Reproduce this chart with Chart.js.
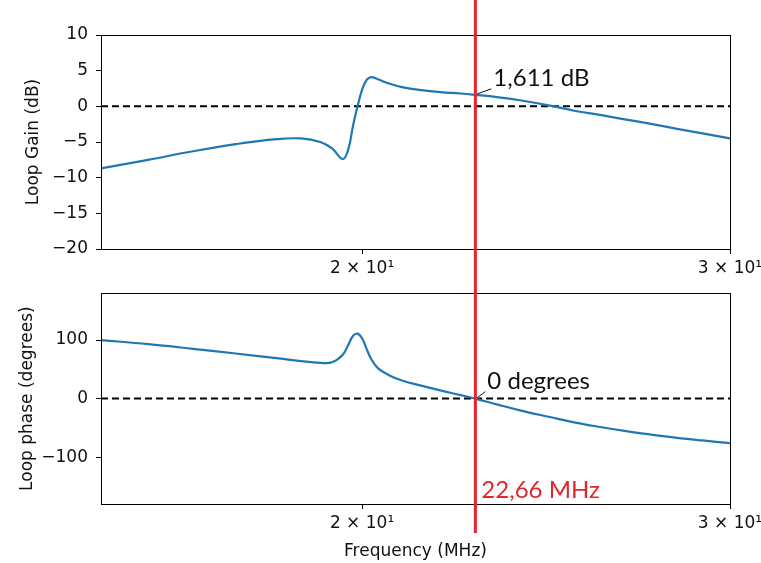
<!DOCTYPE html>
<html lang="en">
<head>
<meta charset="UTF-8" />
<script src="https://cdn.jsdelivr.net/npm/chart.js"></script>
<title>Loop gain and phase</title>
<style>
  body { margin: 0; background: #fff; }
  canvas { position: absolute; left: 0; }
  #gainChart { top: 0; }
  #phaseChart { top: 275px; }
</style>
</head>
<body>
<canvas id="gainChart" width="761" height="275"></canvas>
<canvas id="phaseChart" width="761" height="288"></canvas>
<script>
// values
const freqMHz = [15, 15.8, 16.6, 17.4, 18.2, 18.7, 19.1, 19.35, 19.58, 19.7, 19.8, 19.9, 20.0, 20.1, 20.2, 20.35,
  20.6, 20.9, 21.3, 21.8, 22.3, 22.66, 23.2, 23.8, 24.6, 25.3, 26.0, 26.8, 27.5, 28.3, 29.1, 30];
const gainDb = [-8.7, -7.5, -6.3, -5.3, -4.6, -4.5, -5.0, -5.9, -7.4, -6.0, -2.8, 0.0, 2.3, 3.7, 4.1, 3.8,
  3.2, 2.7, 2.3, 2.0, 1.8, 1.611, 1.3, 0.85, 0.1, -0.65, -1.2, -1.9, -2.45, -3.15, -3.8, -4.5];
const phaseDeg = [100, 93, 85, 77, 69, 64, 61, 62, 75, 92, 107, 111, 103, 85, 68, 52,
  40, 31, 23, 14, 6, 0, -9.8, -20, -31.5, -41, -48.5, -56, -61.5, -67, -71.5, -76];

const xTicks = [20, 30];
const gainTicks = [10, 5, 0, -5, -10, -15, -20];
const phaseTicks = [100, 0, -100];

const markerFreq = 22.66;
const markerGain = 1.611;
const markerPhase = 0;

const tickFont = { family: 'DejaVu Sans', size: 17 };
const noteFont = '24px Lato';
const redColor = '#e3262b';

function toPoints(ys) {
  return freqMHz.map((f, i) => ({ x: f, y: ys[i] }));
}

function minusSign(v) {
  return String(v).replace('-', '\u2212');
}

// draws frame, the red marker line and the text note
function overlayPlugin(note, noteValue, lineBottom, redLabel) {
  return {
    id: 'overlay',
    afterDraw(chart) {
      const ctx = chart.ctx;
      const a = chart.chartArea;
      const xs = chart.scales.x, ys = chart.scales.y;
      ctx.save();
      ctx.strokeStyle = '#000';
      ctx.lineWidth = 1;
      ctx.strokeRect(Math.round(a.left) + 0.5, Math.round(a.top) + 0.5,
        Math.round(a.right - a.left), Math.round(a.bottom - a.top));

      const px = xs.getPixelForValue(markerFreq);
      const py = ys.getPixelForValue(noteValue);

      // note text with small arrow
      ctx.fillStyle = '#111';
      ctx.font = noteFont;
      ctx.textBaseline = 'alphabetic';
      ctx.fillText(note.text, px + note.dx, py + note.dy);
      ctx.strokeStyle = '#111';
      ctx.lineWidth = 1;
      ctx.beginPath();
      ctx.moveTo(px + note.dx - 2, py + note.dy + 3);
      ctx.lineTo(px + 2, py - 1);
      ctx.stroke();

      // red vertical marker
      ctx.strokeStyle = redColor;
      ctx.lineWidth = 3;
      ctx.beginPath();
      ctx.moveTo(px, 0);
      ctx.lineTo(px, lineBottom);
      ctx.stroke();

      if (redLabel) {
        ctx.fillStyle = redColor;
        ctx.font = noteFont;
        ctx.fillText(redLabel, px + 6, a.bottom - 6);
      }
      ctx.restore();
    }
  };
}

function makeChart(id, values, yMin, yMax, yTicks, yTitle, opts) {
  return new Chart(document.getElementById(id), {
    type: 'line',
    data: {
      datasets: [
        {
          data: toPoints(values),
          borderColor: '#1f77b4',
          borderWidth: 2.2,
          pointRadius: 0,
          tension: 0.4
        },
        {
          data: [{ x: 15, y: 0 }, { x: 30, y: 0 }],
          borderColor: '#000',
          borderWidth: 2,
          borderDash: [7, 4],
          pointRadius: 0
        }
      ]
    },
    options: {
      responsive: false,
      animation: false,
      layout: { padding: { top: opts.padTop, right: 31, left: 0, bottom: 0 } },
      plugins: { legend: { display: false }, tooltip: { enabled: false } },
      scales: {
        x: {
          type: 'logarithmic',
          min: 15,
          max: 30,
          afterBuildTicks: s => { s.ticks = xTicks.map(v => ({ value: v })); },
          afterFit: s => {
            s.height = opts.xHeight;
            s.paddingLeft = 0;
            s.paddingRight = 0;
          },
          ticks: {
            autoSkip: false,
            maxRotation: 0,
            padding: 4,
            color: '#111',
            font: tickFont,
            callback: v => (v / 10) + ' \u00d7 10\u00b9'
          },
          grid: { drawOnChartArea: false, drawTicks: true, tickLength: 5, color: '#000' },
          border: { display: true, color: '#000' },
          title: {
            display: !!opts.xTitle,
            text: opts.xTitle || '',
            color: '#111',
            font: tickFont,
            padding: { top: 0, bottom: 1 }
          }
        },
        y: {
          min: yMin,
          max: yMax,
          afterBuildTicks: s => { s.ticks = yTicks.map(v => ({ value: v })); },
          afterFit: s => { s.width = 101; },
          ticks: {
            padding: 8,
            color: '#111',
            font: tickFont,
            callback: v => minusSign(v)
          },
          grid: { drawOnChartArea: false, drawTicks: true, tickLength: 5, color: '#000' },
          border: { display: true, color: '#000' },
          title: {
            display: true,
            text: yTitle,
            color: '#111',
            font: tickFont,
            padding: { top: opts.yTitlePad, bottom: 0 }
          }
        }
      }
    },
    plugins: [overlayPlugin(opts.note, opts.noteValue, opts.lineBottom, opts.redLabel)]
  });
}

makeChart('gainChart', gainDb, -20, 10, gainTicks, 'Loop Gain (dB)', {
  padTop: 35, xHeight: 26, yTitlePad: 23,
  note: { text: '1,611 dB', dx: 18, dy: -9 },
  noteValue: markerGain,
  lineBottom: 275
});

makeChart('phaseChart', phaseDeg, -180, 180, phaseTicks, 'Loop phase (degrees)', {
  padTop: 16, xHeight: 59, yTitlePad: 17, xTitle: 'Frequency (MHz)',
  note: { text: '0 degrees', dx: 12, dy: -10 },
  noteValue: markerPhase,
  lineBottom: 258,
  redLabel: '22,66 MHz'
});
</script>
</body>
</html>
